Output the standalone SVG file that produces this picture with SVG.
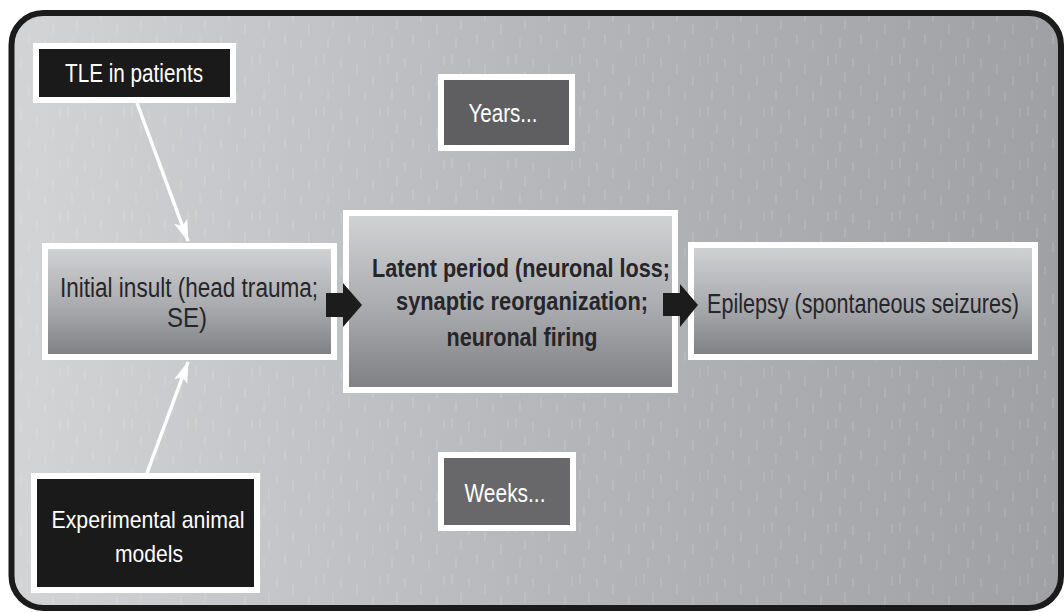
<svg xmlns="http://www.w3.org/2000/svg" width="1064" height="612" viewBox="0 0 1064 612">
  <defs>
    <linearGradient id="bg" x1="0" y1="0" x2="1" y2="0">
      <stop offset="0" stop-color="#d3d4d6"/>
      <stop offset="0.5" stop-color="#b6b7ba"/>
      <stop offset="1" stop-color="#9fa0a3"/>
    </linearGradient>
    <linearGradient id="boxg" x1="0" y1="0" x2="0" y2="1">
      <stop offset="0" stop-color="#d2d3d5"/>
      <stop offset="0.55" stop-color="#a9aaad"/>
      <stop offset="1" stop-color="#7e7f82"/>
    </linearGradient>
    <pattern id="dash" x="0" y="0" width="64" height="52" patternUnits="userSpaceOnUse">
      <g stroke="#ffffff" stroke-opacity="0.2" stroke-width="1">
        <line x1="4" y1="2" x2="4" y2="12"/>
        <line x1="13" y1="20" x2="13" y2="30"/>
        <line x1="21" y1="6" x2="21" y2="15"/>
        <line x1="29" y1="34" x2="29" y2="44"/>
        <line x1="37" y1="12" x2="37" y2="22"/>
        <line x1="45" y1="40" x2="45" y2="49"/>
        <line x1="53" y1="24" x2="53" y2="34"/>
        <line x1="60" y1="4" x2="60" y2="13"/>
        <line x1="8" y1="38" x2="8" y2="47"/>
      </g>
    </pattern>
    <marker id="wh" viewBox="0 0 22 14" refX="21" refY="7" markerWidth="22" markerHeight="14" markerUnits="userSpaceOnUse" orient="auto">
      <path d="M0,0 L22,7 L0,14 L5,7 z" fill="#ffffff"/>
    </marker>
    <style>
      .frame { stroke: #1b1b1b; stroke-width: 6; }
      .grey { fill: url(#boxg); stroke: #ffffff; stroke-width: 6; }
      .black { fill: #1a1a1a; stroke: #ffffff; stroke-width: 6; }
      .dark { fill: #5f5f62; stroke: #ffffff; stroke-width: 6; }
      .t { font-family: "Liberation Sans", Arial, sans-serif; text-anchor: middle; }
      .tw { fill: #ffffff; }
      .td { fill: #26262a; }
      .b { font-weight: bold; }
      .wline { stroke: #ffffff; stroke-width: 3.5; fill: none; }
      .block { fill: #1c1c1c; }
    </style>
  </defs>

  <g id="background">
    <rect x="11.5" y="13" width="1049.5" height="595" rx="32" fill="url(#bg)"/>
    <rect x="11.5" y="13" width="1049.5" height="595" rx="32" fill="url(#dash)"/>
    <rect x="11.5" y="13" width="1049.5" height="595" rx="32" fill="none" class="frame"/>
  </g>

  <g id="connectors-lines">
    <line class="wline" x1="137" y1="103" x2="188" y2="241" marker-end="url(#wh)"/>
    <line class="wline" x1="147" y1="473" x2="188" y2="362" marker-end="url(#wh)"/>
  </g>

  <g id="tle">
    <rect class="black" x="36" y="46" width="197" height="54"/>
    <text class="t tw" x="134" y="82" font-size="25" textLength="138" lengthAdjust="spacingAndGlyphs">TLE in patients</text>
  </g>

  <g id="initial">
    <rect class="grey" x="45" y="246" width="289" height="111"/>
    <text class="t td" x="189" y="297" font-size="27" textLength="258" lengthAdjust="spacingAndGlyphs">Initial insult (head trauma;</text>
    <text class="t td" x="187" y="327" font-size="27" textLength="40" lengthAdjust="spacingAndGlyphs">SE)</text>
  </g>

  <g id="latent">
    <rect class="grey" x="346" y="213" width="329" height="177"/>
    <text class="t td b" x="521" y="277" font-size="26" textLength="298" lengthAdjust="spacingAndGlyphs">Latent period (neuronal loss;</text>
    <text class="t td b" x="522" y="310" font-size="26" textLength="252" lengthAdjust="spacingAndGlyphs">synaptic reorganization;</text>
    <text class="t td b" x="522" y="346" font-size="26" textLength="151" lengthAdjust="spacingAndGlyphs">neuronal firing</text>
  </g>

  <g id="epilepsy">
    <rect class="grey" x="691" y="245" width="344" height="112"/>
    <text class="t td" transform="translate(863,313) scale(0.8,1)" x="0" y="0" font-size="27">Epilepsy (spontaneous seizures)</text>
  </g>

  <g id="years">
    <rect class="dark" x="441" y="77" width="131" height="71"/>
    <text class="t tw" x="503" y="122" font-size="25" textLength="69" lengthAdjust="spacingAndGlyphs">Years...</text>
  </g>

  <g id="weeks">
    <rect class="dark" x="441" y="455" width="132" height="73" style="fill:#68686b"/>
    <text class="t tw" x="505" y="502" font-size="25" textLength="81" lengthAdjust="spacingAndGlyphs">Weeks...</text>
  </g>

  <g id="experimental">
    <rect class="black" x="34" y="476" width="223" height="114"/>
    <text class="t tw" x="148" y="528" font-size="24" textLength="193" lengthAdjust="spacingAndGlyphs">Experimental animal</text>
    <text class="t tw" x="149" y="562" font-size="24" textLength="68" lengthAdjust="spacingAndGlyphs">models</text>
  </g>

  <g id="connectors">
    <polygon class="block" points="326,293 343,293 343,283 362,305 343,327 343,317 326,317"/>
    <polygon class="block" points="663,293 680,293 680,284 698,305 680,327 680,316 663,316"/>
  </g>
</svg>
